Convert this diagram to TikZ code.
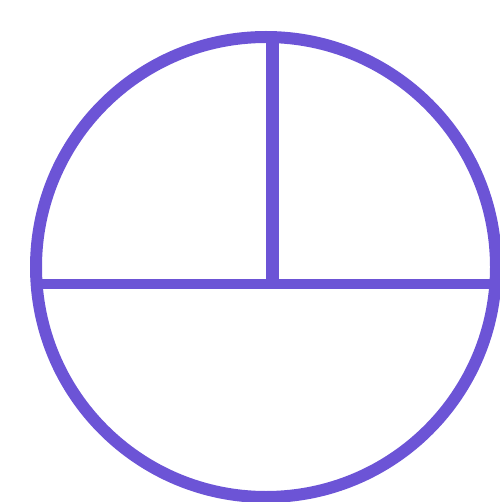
\documentclass[tikz,border=0pt]{standalone}
\usepackage{tikz}
\definecolor{violetink}{RGB}{108,84,214}

\begin{document}
\begin{tikzpicture}[x=1pt,y=-1pt]
        \useasboundingbox (0,0) rectangle (499,502);
        \coordinate (O) at (266,267);
        \coordinate (C) at (272,284);
        \coordinate (L) at (37,284);
        \coordinate (R) at (495,284);
        \coordinate (T) at (272,37);
        \draw[violetink,line width=12pt] (O) circle (230);
        \draw[violetink,line width=10pt] (L)--(R);
        \draw[violetink,line width=13pt] (T)--(C);
    \end{tikzpicture}
\end{document}
